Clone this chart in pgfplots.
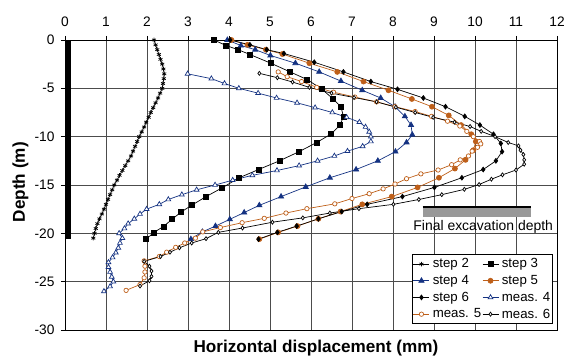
\documentclass[border=0pt]{standalone}
\usepackage{pgfplots}
\pgfplotsset{compat=1.18}
\usepackage{fontspec}
\setmainfont{Liberation Sans}
\definecolor{navyc}{RGB}{20,50,130}
\definecolor{orng}{RGB}{190,95,25}
\begin{document}
\begin{tikzpicture}
\begin{axis}[name=ax, scale only axis, width=492bp, height=290bp,
 xmin=0,xmax=12,ymin=-30,ymax=0,
 xtick={0,1,2,3,4,5,6,7,8,9,10,11,12},
 ytick={-30,-25,-20,-15,-10,-5,0}, yticklabels={-30,-25,-20,-15,-10,-5,0},
 xticklabel pos=right, xtick pos=right, ytick pos=left, tick align=outside,
 major tick length=4bp,
 grid=major, grid style={black!70, line width=0.7bp},
 axis line style={line width=0.9bp},
 tick style={black, line width=0.7bp},
 tick label style={font=\fontsize{13.8}{16}\selectfont},
 xticklabel style={yshift=6bp},
 yticklabel style={xshift=-3bp},
 /pgf/number format/assume math mode=true,
 xlabel={Horizontal displacement (mm)}, ylabel={Depth (m)},
 label style={font=\bfseries\fontsize{17.2}{20}\selectfont},
 xlabel style={at={(axis description cs:0.51,-0.0759)},anchor=base},
 ylabel style={at={(axis description cs:-0.0813,0.51)},anchor=base},
 legend columns=2, legend cell align=left,
 legend style={at={(0.991,0.021)},anchor=south east, font=\fontsize{13.3}{16}\selectfont, draw=black, line width=0.7bp, fill=white, inner sep=1bp, nodes={inner xsep=1bp, inner ysep=3bp}, /tikz/every odd column/.append style={column sep=2bp}},
 every axis plot/.append style={line width=0.7bp, legend image code/.code={\draw[mark repeat=2,mark phase=2] plot coordinates {(0bp,0bp) (8bp,0bp) (16bp,0bp)};}},
]
\fill[black] (axis cs:0,0) rectangle (axis cs:0.15,-20.6);
\fill[black!40] (axis cs:8.72,-17.35) rectangle (axis cs:11.36,-18.3);
\draw[black, line width=2bp] (axis cs:8.72,-17.25) -- (axis cs:11.36,-17.25);
\node[anchor=base, font=\fontsize{14}{16}\selectfont, inner sep=0pt] at (axis cs:10.2,-19.75) {Final excavation depth};

% step 2
\addplot[black, mark=asterisk, mark size=2.3bp] coordinates {
(2.17,0) (2.21,-0.5) (2.25,-1) (2.29,-1.5) (2.33,-2) (2.37,-2.5) (2.40,-3) (2.42,-3.5)
(2.41,-4) (2.39,-4.5) (2.37,-5) (2.32,-5.5) (2.27,-6) (2.21,-6.5) (2.15,-7) (2.09,-7.5)
(2.04,-8) (1.98,-8.5) (1.93,-9) (1.87,-9.5) (1.81,-10) (1.76,-10.5) (1.71,-11) (1.66,-11.5)
(1.61,-12) (1.54,-12.5) (1.47,-13) (1.40,-13.5) (1.33,-14) (1.27,-14.5) (1.20,-15) (1.15,-15.5)
(1.10,-16) (1.05,-16.5) (1.00,-17) (0.95,-17.5) (0.90,-18) (0.84,-18.5) (0.79,-19) (0.75,-19.5)
(0.72,-20) (0.69,-20.5)};
\addlegendentry{step 2}
% step 3
\addplot[black, mark=square*, mark size=2.5bp] coordinates {
(3.63,0) (3.93,-0.57) (4.22,-1.0) (4.51,-1.5) (5.02,-2.4) (5.49,-3.3) (5.91,-4.1) (6.27,-5.1)
(6.54,-6.1) (6.73,-6.9) (6.79,-7.9) (6.71,-8.8) (6.48,-9.75) (6.14,-10.6) (5.71,-11.55) (5.23,-12.5)
(4.72,-13.4) (4.25,-14.25) (3.83,-15.3) (3.44,-16.2) (3.09,-17.1) (2.83,-17.8) (2.61,-18.55)
(2.40,-19.3) (2.17,-19.9) (1.98,-20.6)};
\addlegendentry{step 3}
% step 4
\addplot[navyc, mark=triangle*, mark size=3bp] coordinates {
(3.96,0) (4.29,-0.57) (4.64,-1.0) (5.01,-1.6) (5.62,-2.4) (6.2,-3.3) (6.73,-4.25) (7.25,-5.2)
(7.7,-6.0) (8.05,-6.9) (8.29,-7.9) (8.44,-8.8) (8.47,-9.8) (8.33,-10.6) (8.06,-11.55) (7.63,-12.5)
(7.1,-13.4) (6.46,-14.25) (5.87,-15.2) (5.27,-16.2) (4.74,-17.1) (4.37,-17.85) (4.02,-18.55)
(3.67,-19.25) (3.35,-19.85) (3.07,-20.6)};
\addlegendentry{step 4}
% step 5
\addplot[orng, mark=*, mark size=2.5bp] coordinates {
(4.06,0) (4.45,-0.5) (4.9,-1.0) (5.3,-1.45) (5.96,-2.4) (6.64,-3.3) (7.28,-4.3) (7.89,-5.2)
(8.46,-6.1) (8.95,-6.9) (9.36,-7.8) (9.66,-8.8) (9.91,-9.75) (10.02,-10.5) (9.96,-11.4) (9.77,-12.4)
(9.51,-13.3) (9.12,-14.25) (8.6,-15.25) (7.97,-16.2) (7.25,-17.0) (6.72,-17.75) (6.18,-18.5)
(5.67,-19.25) (5.2,-19.9) (4.74,-20.6)};
\addlegendentry{step 5}
% step 6
\addplot[black, mark=diamond*, mark size=2.4bp] coordinates {
(4.03,0) (4.51,-0.5) (4.92,-1.0) (5.34,-1.4) (6.08,-2.3) (6.79,-3.3) (7.46,-4.3) (8.11,-5.1)
(8.74,-6.0) (9.28,-6.9) (9.75,-7.9) (10.12,-8.8) (10.45,-9.75) (10.63,-10.7) (10.66,-11.55)
(10.51,-12.5) (10.2,-13.4) (9.68,-14.25) (9.01,-15.25) (8.23,-16.2) (7.37,-17.0) (6.75,-17.75)
(6.18,-18.5) (5.65,-19.25) (5.18,-19.9) (4.72,-20.6)};
\addlegendentry{step 6}
% meas 4
\addplot[navyc, mark=triangle*, mark size=2.8bp, mark options={fill=white}] coordinates {
(2.99,-3.5) (3.57,-4) (3.89,-4.5) (4.24,-5) (4.71,-5.5) (5.16,-6) (5.66,-6.5) (6.10,-7)
(6.52,-7.5) (6.87,-8) (7.18,-8.5) (7.33,-9) (7.42,-9.5) (7.46,-10) (7.46,-10.5) (7.26,-11)
(6.89,-11.5) (6.57,-12) (6.16,-12.5) (5.71,-13) (5.17,-13.5) (4.57,-14) (4.09,-14.5) (3.66,-15)
(3.21,-15.5) (2.85,-16) (2.52,-16.5) (2.30,-17) (1.99,-17.5) (1.83,-18) (1.69,-18.5) (1.54,-19)
(1.45,-19.5) (1.32,-20) (1.40,-20.5) (1.34,-21) (1.30,-21.5) (1.24,-22) (1.16,-22.5) (1.06,-23)
(1.06,-23.5) (1.10,-24) (1.14,-24.5) (1.18,-25) (1.10,-25.5) (0.95,-26)};
\addlegendentry{meas. 4}
% meas 5
\addplot[orng, mark=*, mark size=2.2bp, mark options={fill=white}] coordinates {
(5.2,-3.3) (5.42,-3.8) (5.77,-4.3) (6.14,-4.9) (6.55,-5.4) (7.07,-5.9) (7.6,-6.4) (8.05,-6.9)
(8.54,-7.4) (8.94,-7.9) (9.33,-8.4) (9.63,-8.9) (9.8,-9.45) (9.96,-10.0) (10.11,-10.5) (10.14,-10.75)
(10.06,-11.1) (9.93,-11.5) (9.84,-12.0) (9.64,-12.4) (9.43,-12.9) (9.1,-13.45) (8.68,-13.85)
(8.33,-14.35) (8.05,-14.9) (7.76,-15.4) (7.42,-15.9) (7.0,-16.4) (6.58,-16.95) (5.9,-17.45)
(5.39,-17.9) (4.86,-18.45) (4.32,-18.9) (3.79,-19.4) (3.36,-19.85) (3.18,-20.5) (2.92,-21.0)
(2.7,-21.45) (2.48,-21.95) (2.3,-22.4) (1.93,-22.85) (1.95,-23.4) (1.95,-24.0) (1.93,-24.6)
(1.83,-25.3) (1.49,-25.9)};
\addlegendentry{meas. 5}
% meas 6
\addplot[black, mark=diamond*, mark size=2bp, mark options={fill=white}] coordinates {
(4.74,-3.45) (5.18,-3.9) (5.55,-4.35) (5.96,-4.9) (6.5,-5.5) (7.05,-5.95) (7.6,-6.4) (8.07,-6.95)
(8.54,-7.5) (8.98,-8.0) (9.5,-8.5) (9.88,-8.95) (10.15,-9.45) (10.49,-10.0) (10.81,-10.6)
(11.06,-10.95) (11.11,-11.4) (11.18,-11.85) (11.2,-12.4) (11.2,-12.85) (11.0,-13.45) (10.67,-13.95)
(10.4,-14.4) (10.1,-14.95) (9.74,-15.45) (9.19,-16.0) (8.63,-16.5) (8.01,-17.0) (7.17,-17.45)
(6.46,-17.9) (5.8,-18.4) (5.06,-18.85) (4.33,-19.45) (3.74,-19.9) (3.44,-20.55) (3.09,-21.0)
(2.79,-21.5) (2.56,-21.95) (2.33,-22.4) (1.93,-22.9) (2.06,-23.4) (2.11,-23.9) (2.11,-24.45)
(2.06,-24.9) (1.83,-25.45)};
\addlegendentry{meas. 6}
\end{axis}
\pgfresetboundingbox
\path ([shift={(-65bp,-26bp)}]ax.south west) rectangle ([shift={(10bp,40bp)}]ax.north east);
\end{tikzpicture}
\end{document}
